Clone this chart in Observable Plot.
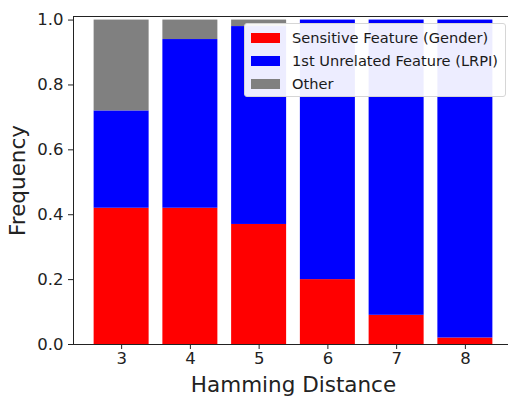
<!DOCTYPE html>
<html>
<head>
<meta charset="utf-8">
<script src="https://cdn.jsdelivr.net/npm/d3@7"></script>
<script src="https://cdn.jsdelivr.net/npm/@observablehq/plot@0.6"></script>
<style>
  html, body { margin: 0; padding: 0; background: #fff; }
  #wrap { position: relative; width: 508px; height: 396px; overflow: hidden; font-family: "DejaVu Sans", sans-serif; }
  #wrap svg g[aria-label$="tick label"] text { font-size: 16.5px; }
  #wrap svg g[aria-label$="axis label"] text { font-size: 21.5px; }
  #legend { position: absolute; left: 244px; top: 23px; width: 262px; height: 74px; box-sizing: border-box;
    border: 1px solid #d6d6d6; border-radius: 3px; background: rgba(255,255,255,0.93); }
  .sw { position: absolute; left: 6px; width: 29px; height: 10px; }
  .lab { position: absolute; left: 47px; font-size: 14.6px; color: #1a1a1a; white-space: nowrap; line-height: 20px; }
</style>
</head>
<body>
<div id="wrap"></div>
<script>
const distances = [3, 4, 5, 6, 7, 8];
const sensitive = [0.42, 0.42, 0.37, 0.20, 0.09, 0.02];
const unrelated = [0.30, 0.52, 0.61, 0.80, 0.91, 0.98];
const other = [0.28, 0.06, 0.02, 0.00, 0.00, 0.00];
const seriesNames = ["Sensitive Feature (Gender)", "1st Unrelated Feature (LRPI)", "Other"];
const seriesColors = ["#ff0000", "#0000ff", "#808080"];
const yTicks = [0, 0.2, 0.4, 0.6, 0.8, 1.0];

const seriesValues = [sensitive, unrelated, other];
const data = [];
seriesNames.forEach((name, si) => {
  distances.forEach((d, i) => data.push({distance: d, series: name, value: seriesValues[si][i]}));
});

const chart = Plot.plot({
  width: 508,
  height: 396,
  marginLeft: 73,
  marginRight: -5,
  marginTop: 16,
  marginBottom: 52,
  style: {fontFamily: "DejaVu Sans, sans-serif", background: "transparent"},
  x: {type: "band", domain: distances, paddingInner: 0.2, paddingOuter: 0.3, round: false},
  y: {domain: [0, 1.011]},
  color: {domain: seriesNames, range: seriesColors},
  marks: [
    Plot.barY(data, Plot.stackY({order: seriesNames}, {x: "distance", y: "value", fill: "series", z: "series"})),
    Plot.frame({stroke: "#222", strokeWidth: 1}),
    Plot.axisX({tickSize: 5, tickPadding: 3, fontSize: 16.5, stroke: "#222", color: "#222",
      label: "Hamming Distance", labelAnchor: "center", labelArrow: "none", labelOffset: 47}),
    Plot.axisY({ticks: yTicks, tickFormat: d3.format(".1f"), tickSize: 5, tickPadding: 5, fontSize: 16.5, color: "#222",
      label: "Frequency", labelAnchor: "center", labelArrow: "none", labelOffset: 64})
  ]
});
document.getElementById("wrap").appendChild(chart);

const legend = document.createElement("div");
legend.id = "legend";
seriesNames.forEach((name, i) => {
  const top = 4 + i * 23;
  const sw = document.createElement("div");
  sw.className = "sw";
  sw.style.background = seriesColors[i];
  sw.style.top = (top + 5) + "px";
  const lab = document.createElement("div");
  lab.className = "lab";
  lab.style.top = top + "px";
  lab.textContent = name;
  legend.appendChild(sw); legend.appendChild(lab);
});
document.getElementById("wrap").appendChild(legend);
</script>
</body>
</html>
